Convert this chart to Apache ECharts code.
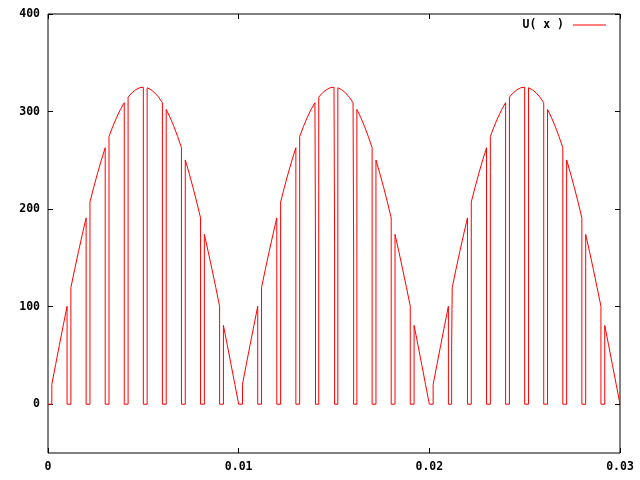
<!DOCTYPE html>
<html>
<head>
<meta charset="utf-8">
<script src="https://cdn.jsdelivr.net/npm/echarts@6/dist/echarts.min.js"></script>
<style>
  html, body { margin: 0; padding: 0; background: #fff; }
  #main { width: 640px; height: 480px; }
</style>
</head>
<body>
<div id="main"></div>
<script>
var myChart = echarts.init(document.getElementById('main'));

var halfWave = [
    0, 20.4, 40.7, 60.9, 80.8, 100.4, 119.6, 138.4, 156.6, 174.1,
    191.0, 207.2, 222.5, 236.9, 250.4, 262.9, 274.4, 284.8, 294.1, 302.2,
    309.1, 314.8, 319.2, 322.4, 324.4, 325, 324.4, 322.4, 319.2, 314.8,
    309.1, 302.2, 294.1, 284.8, 274.4, 262.9, 250.4, 236.9, 222.5, 207.2,
    191.0, 174.1, 156.6, 138.4, 119.6, 100.4, 80.8, 60.9, 40.7, 20.4, 0
];
var humpStarts = [0, 0.01, 0.02];
var sampleStep = 0.0002;   // spacing of halfWave values
var slotWidth = 0.001;     // switching period
var gateDelay = 0.0002;    // output is off for this long at the start of each slot
// stray samples on some edges: [x, value]
var dropGlitches = [[0.014, 155], [0.015, 164], [0.016, 155]];
var riseGlitches = [[0.0212, 60]];
var xTicks = [0, 0.01, 0.02, 0.03];
var yTicks = [0, 100, 200, 300, 400];

function findGlitch(list, x) {
    for (var i = 0; i < list.length; i++) {
        if (Math.abs(list[i][0] - x) < 1e-9) return list[i][1];
    }
    return null;
}

var edge = 0.00003;
var points = [[0, 0]];
humpStarts.forEach(function (h) {
    for (var j = 0; j < 10; j++) {
        var t0 = h + j * slotWidth;
        var tOn = t0 + gateDelay;
        var rise = findGlitch(riseGlitches, tOn);
        if (rise !== null) {
            points.push([tOn - edge, 0], [tOn - edge, rise]);
        } else {
            points.push([tOn, 0]);
        }
        for (var n = 1; n <= 5; n++) {
            points.push([t0 + n * sampleStep, halfWave[j * 5 + n]]);
        }
        var tOff = t0 + slotWidth;
        var drop = findGlitch(dropGlitches, tOff);
        if (drop !== null) {
            points.push([tOff + edge, drop], [tOff + edge, 0]);
        } else {
            points.push([tOff, 0]);
        }
    }
});

var labelFont = {
    color: '#000',
    fontFamily: 'DejaVu Sans Mono',
    fontWeight: 'bold',
    fontSize: 11.5
};

function xAxisOf(pos, showLabel) {
    return {
        type: 'value',
        position: pos,
        min: 0,
        max: 0.03,
        interval: 0.01,
        axisLine: { show: false, onZero: false },
        axisTick: { customValues: xTicks, inside: true, length: 5, lineStyle: { color: '#000' } },
        axisLabel: echarts.util.extend({
            show: showLabel,
            customValues: xTicks,
            margin: 8,
            formatter: function (v) { return v === 0 ? '0' : v.toFixed(2); }
        }, labelFont),
        splitLine: { show: false }
    };
}

function yAxisOf(pos, showLabel) {
    return {
        type: 'value',
        position: pos,
        min: -50,
        max: 400,
        axisLine: { show: false, onZero: false },
        axisTick: { customValues: yTicks, inside: true, length: 5, lineStyle: { color: '#000' } },
        axisLabel: echarts.util.extend({
            show: showLabel,
            customValues: yTicks,
            margin: 8
        }, labelFont),
        splitLine: { show: false }
    };
}

var option = {
    animation: false,
    backgroundColor: '#fff',
    grid: {
        left: 48,
        right: 20,
        top: 14,
        bottom: 27,
        show: true,
        borderColor: '#000',
        borderWidth: 1,
        backgroundColor: 'transparent'
    },
    legend: {
        right: 34,
        top: 19,
        padding: 0,
        align: 'right',
        icon: 'rect',
        itemWidth: 33,
        itemHeight: 1,
        textStyle: echarts.util.extend({ padding: [0, 4, 0, 0] }, labelFont),
        data: ['U( x )']
    },
    xAxis: [xAxisOf('bottom', true), xAxisOf('top', false)],
    yAxis: [yAxisOf('left', true), yAxisOf('right', false)],
    series: [{
        name: 'U( x )',
        type: 'line',
        data: points,
        symbol: 'none',
        lineStyle: { color: '#ff0000', width: 1 },
        itemStyle: { color: '#ff0000' }
    }]
};

myChart.setOption(option);
</script>
</body>
</html>
